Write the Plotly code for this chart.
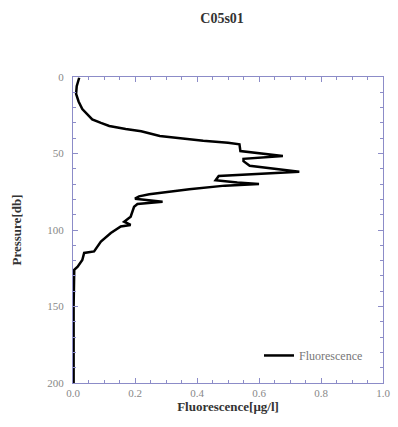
import plotly.graph_objects as go

fluor = [0.02, 0.012, 0.01, 0.018, 0.03, 0.045, 0.062, 0.09, 0.117, 0.17, 0.22, 0.28, 0.34, 0.42, 0.5, 0.537,
         0.54, 0.677, 0.55, 0.55, 0.57, 0.73, 0.47, 0.46, 0.53, 0.60, 0.49, 0.375, 0.246, 0.213, 0.20,
         0.289, 0.208, 0.197, 0.186, 0.165, 0.186, 0.154, 0.122, 0.09, 0.068, 0.036, 0.03, 0.015, 0.004, 0.002, 0.002]
pressure = [0.5, 6, 11, 16, 21, 24, 27.7, 30, 32, 34, 35.5, 38.6, 40, 41.7, 43, 44,
            48.4, 51.6, 53.5, 55, 58, 61.9, 64.7, 67.5, 69, 70, 71, 73.4, 76.7, 78, 79.5,
            81.5, 83, 84.8, 91.3, 94.6, 96.7, 97.7, 102, 107.6, 114, 115, 119.6, 124, 126, 150, 200]

serif = "Liberation Serif"
axcol = "#8c8cc8"

fig = go.Figure()
fig.add_trace(go.Scatter(x=fluor, y=pressure, mode="lines", name="Fluorescence",
                         line=dict(color="black", width=2.5, shape="linear")))

axis_common = dict(showline=True, linecolor=axcol, linewidth=1, mirror="ticks",
                   ticks="inside", tickcolor=axcol, ticklen=5, showgrid=False, zeroline=False,
                   tickfont=dict(family=serif, size=11, color="#888888"))

fig.update_xaxes(range=[0, 1], dtick=0.2, tickformat=".1f",
                 minor=dict(dtick=0.05, ticks="inside", ticklen=3, tickcolor=axcol),
                 title=dict(text="<b>Fluorescence[μg/l]</b>", font=dict(family=serif, size=13, color="#333333"), standoff=3),
                 **axis_common)
fig.update_yaxes(range=[200, 0], dtick=50, ticklabelstandoff=6,
                 minor=dict(dtick=10, ticks="inside", ticklen=3, tickcolor=axcol),
                 title=dict(text="<b>Pressure[db]</b>", font=dict(family=serif, size=13, color="#333333"), standoff=22),
                 **axis_common)

fig.update_layout(
    width=398, height=427,
    margin=dict(l=73, r=15, t=77, b=44, autoexpand=False),
    paper_bgcolor="white", plot_bgcolor="white",
    title=dict(text="<b>C05s01</b>", x=0.558, xanchor="center", y=0.958, yanchor="middle",
               font=dict(family=serif, size=14, color="#333333")),
    showlegend=True,
    legend=dict(x=0.6, y=0.09, xanchor="left", yanchor="middle", bgcolor="rgba(0,0,0,0)",
                font=dict(family=serif, size=12, color="#777777"), itemwidth=30),
)

fig.write_html("out.html")
